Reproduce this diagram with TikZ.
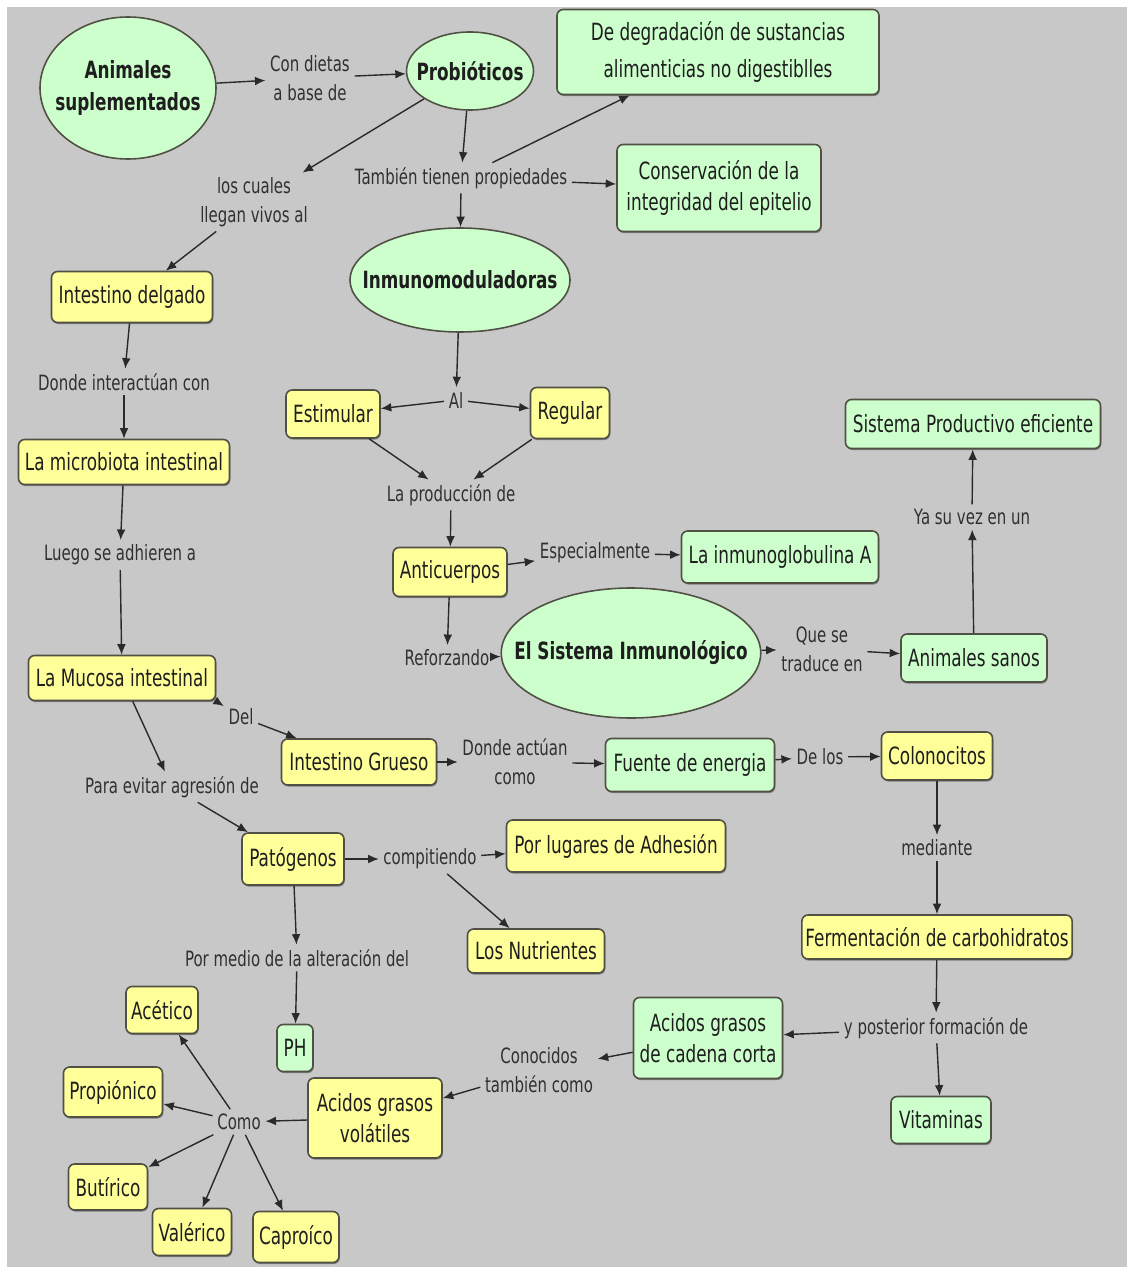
\documentclass[tikz,border=0pt]{standalone}
\usepackage{fontspec}
\setmainfont{DejaVu Sans}[FakeStretch=0.71]
\usetikzlibrary{arrows.meta,shapes.geometric,shadows}
\definecolor{fondo}{HTML}{C8C8C8}
\definecolor{verdeclaro}{HTML}{CCFFCC}
\definecolor{amarillo}{HTML}{FFFF99}
\definecolor{borde}{HTML}{505045}
\definecolor{texto}{HTML}{1E1E1E}
\definecolor{textoenlace}{HTML}{303030}
\definecolor{linea}{HTML}{2A2A2A}

\begin{document}
\begin{tikzpicture}[x=0.02cm,y=-0.02cm,
    caja/.style={rectangle,rounded corners=3.5pt,draw=borde,line width=0.9pt,inner sep=2pt,align=center,text=texto,
        font=\fontsize{13.5}{18}\selectfont,
        drop shadow={shadow xshift=0.5pt,shadow yshift=-0.9pt,fill=black!70,opacity=0.6}},
    verde/.style={caja,fill=verdeclaro},
    amarilla/.style={caja,fill=amarillo},
    elipse/.style={ellipse,draw=borde,line width=0.9pt,fill=verdeclaro,inner ysep=0pt,align=center,text=texto,
        font=\bfseries\fontsize{13.5}{18}\selectfont},
    enlace/.style={inner sep=2.5pt,align=center,text=textoenlace,font=\fontsize{12}{16.5}\selectfont},
    flecha/.style={draw=linea,line width=0.8pt,-{Latex[length=6pt,width=5pt]}},
    wh/.style 2 args={minimum width=#1*0.02cm,minimum height=#2*0.02cm}]

% fondo
\useasboundingbox (0,0) rectangle (1127,1267);
\fill[white] (0,0) rectangle (1127,1267);
\fill[fondo] (7,7) rectangle (1127,1267);

% conceptos principales
\node (anim) [elipse,wh={176}{142},inner xsep=-6.2pt] at (128,88) {Animales\\suplementados};
\node (probio) [elipse,wh={127}{78},inner xsep=-5.4pt] at (470,71) {Probióticos};
\node (inmuno) [elipse,wh={220}{104},inner xsep=-11.2pt] at (460,280) {Inmunomoduladoras};
\node (sisinm) [elipse,wh={257}{130},inner xsep=-14.2pt] at (631,653) {El Sistema Inmunológico};

\node (degrad) [verde,wh={322}{85},font=\fontsize{13.5}{21}\selectfont] at (718,52) {De degradación de sustancias\\alimenticias no digestiblles};
\node (conserv) [verde,wh={204}{87}] at (719,188) {Conservación de la\\integridad del epitelio};
\node (inmunoA) [verde,wh={197}{52}] at (780,557) {La inmunoglobulina A};
\node (sanos) [verde,wh={146}{48}] at (974,658) {Animales sanos};
\node (sisprod) [verde,wh={255}{49}] at (973,424) {Sistema Productivo eficiente};
\node (fuente) [verde,wh={169}{53}] at (690,765) {Fuente de energia};
\node (agcc) [verde,wh={149}{81}] at (708,1038) {Acidos grasos\\de cadena corta};
\node (vitam) [verde,wh={100}{47}] at (941,1120) {Vitaminas};
\node (ph) [verde,wh={36}{47}] at (295,1048) {PH};

\node (intdel) [amarilla,wh={161}{51}] at (132,297) {Intestino delgado};
\node (microb) [amarilla,wh={211}{45}] at (124,462) {La microbiota intestinal};
\node (mucosa) [amarilla,wh={187}{45}] at (122,678) {La Mucosa intestinal};
\node (estim) [amarilla,wh={94}{48}] at (333,414) {Estimular};
\node (regul) [amarilla,wh={79}{51}] at (570,413) {Regular};
\node (anticu) [amarilla,wh={114}{49}] at (450,572) {Anticuerpos};
\node (grueso) [amarilla,wh={155}{46}] at (359,762) {Intestino Grueso};
\node (colono) [amarilla,wh={111}{48}] at (937,756) {Colonocitos};
\node (ferment) [amarilla,wh={248}{44}] at (937,937) {Fermentación de carbohidratos};
\node (patog) [amarilla,wh={102}{52}] at (293,859) {Patógenos};
\node (adhes) [amarilla,wh={219}{52}] at (616,846) {Por lugares de Adhesión};
\node (nutri) [amarilla,wh={137}{44}] at (536,951) {Los Nutrientes};
\node (agvol) [amarilla,wh={134}{80}] at (375,1118) {Acidos grasos\\volátiles};
\node (acet) [amarilla,wh={72}{47}] at (162,1010) {Acético};
\node (propi) [amarilla,wh={99}{50}] at (113,1092) {Propiónico};
\node (butir) [amarilla,wh={79}{46}] at (108,1187) {Butírico};
\node (valer) [amarilla,wh={79}{47}] at (192,1232) {Valérico};
\node (capro) [amarilla,wh={86}{51}] at (296,1237) {Caproíco};

% frases de enlace
\node (lcondietas) [enlace] at (310,78) {Con dietas\\a base de};
\node (lcuales) [enlace] at (254,202) {los cuales\\llegan vivos al};
\node (ltambien) [enlace] at (461,178) {También tienen propiedades};
\node (linteract) [enlace] at (124,382) {Donde interactúan con};
\node (lluego) [enlace] at (120,555) {Luego se adhieren a};
\node (lal) [enlace] at (456,400) {Al};
\node (lprod) [enlace] at (451,495) {La producción de};
\node (lespec) [enlace] at (595,553) {Especialmente};
\node (lrefor) [enlace] at (447,658) {Reforzando};
\node (ltraduce) [enlace] at (822,649) {Que se\\traduce en};
\node (lyasu) [enlace] at (972,517) {Ya su vez en un};
\node (ldel) [enlace] at (241,717) {Del};
\node (levitar) [enlace] at (172,787) {Para evitar agresión de};
\node (ldonde) [enlace] at (515,762) {Donde actúan\\como};
\node (ldelos) [enlace] at (820,757) {De los};
\node (lmediante) [enlace] at (937,848) {mediante};
\node (lcompit) [enlace] at (430,859) {compitiendo};
\node (lmedio) [enlace] at (297,958) {Por medio de la alteración del};
\node (lposter) [enlace] at (936,1028) {y posterior formación de};
\node (lconoc) [enlace] at (539,1070) {Conocidos\\también como};
\node (lcomo) [enlace] at (239,1122) {Como};

% conectores
\foreach \a/\b in {anim/lcondietas, lcondietas/probio, probio/lcuales, lcuales/intdel,
    probio/ltambien, ltambien/inmuno, ltambien/degrad, ltambien/conserv,
    intdel/linteract, linteract/microb, microb/lluego, lluego/mucosa,
    inmuno/lal, lal/estim, lal/regul, estim/lprod, regul/lprod, lprod/anticu,
    anticu/lespec, lespec/inmunoA, anticu/lrefor, lrefor/sisinm,
    sisinm/ltraduce, ltraduce/sanos, sanos/lyasu, lyasu/sisprod,
    mucosa.south east/ldel, ldel/grueso, mucosa/levitar, levitar/patog,
    grueso/ldonde, ldonde/fuente, fuente/ldelos, ldelos/colono,
    colono/lmediante, lmediante/ferment, ferment/lposter, lposter/agcc, lposter/vitam,
    agcc/lconoc, lconoc/agvol, agvol/lcomo,
    lcomo/acet, lcomo/propi, lcomo/butir, lcomo/valer, lcomo/capro,
    patog/lcompit, lcompit/adhes, lcompit/nutri, patog/lmedio, lmedio/ph}
    \draw[flecha] (\a) -- (\b);

\end{tikzpicture}
\end{document}
